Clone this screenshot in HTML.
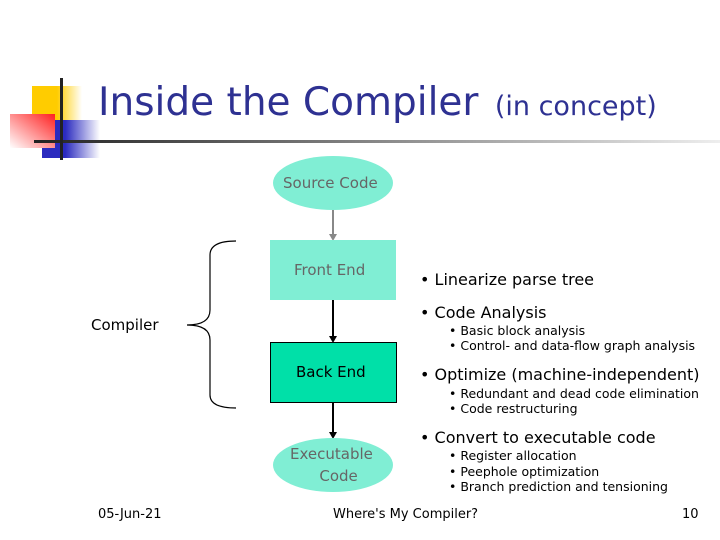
<!DOCTYPE html>
<html><head><style>
body{margin:0;width:720px;height:540px;background:#fff;position:relative;overflow:hidden;font-family:"DejaVu Sans","Liberation Sans",sans-serif;}
.t{position:absolute;white-space:nowrap;}
</style></head><body>
<svg width="720" height="540" style="position:absolute;left:0;top:0">
<defs>
<linearGradient id="y" x1="0" x2="1"><stop offset="0.5" stop-color="#ffcc00"/><stop offset="1" stop-color="#fff"/></linearGradient>
<linearGradient id="b" x1="0" x2="1"><stop offset="0.4" stop-color="#2b2bbf"/><stop offset="1" stop-color="#fff"/></linearGradient>
<linearGradient id="r" x1="1" x2="0" y1="0" y2="1"><stop offset="0" stop-color="#ff2020"/><stop offset="1" stop-color="#fff"/></linearGradient>
<linearGradient id="l" x1="0" x2="1"><stop offset="0" stop-color="#222"/><stop offset="1" stop-color="#eee"/></linearGradient>
</defs>
<rect x="32" y="86" width="50" height="40" fill="url(#y)"/>
<rect x="42" y="120" width="58" height="38" fill="url(#b)"/>
<rect x="10" y="114" width="45" height="34" fill="url(#r)"/>
<rect x="34" y="140" width="686" height="3" fill="url(#l)"/>
<rect x="60" y="78" width="3" height="82" fill="#222"/>
<ellipse cx="333" cy="183" rx="60" ry="27" fill="#80eed4"/>
<line x1="333" y1="210" x2="333" y2="236" stroke="#888" stroke-width="2"/>
<polygon points="329,234 337,234 333,241" fill="#888"/>
<rect x="270" y="240" width="126" height="60" fill="#80eed4"/>
<line x1="333" y1="300" x2="333" y2="337" stroke="#000" stroke-width="2"/>
<polygon points="329,336 337,336 333,343" fill="#000"/>
<rect x="270.5" y="342.5" width="126" height="60" fill="#00e0a8" stroke="#000"/>
<line x1="333" y1="403" x2="333" y2="433" stroke="#000" stroke-width="2"/>
<polygon points="329,432 337,432 333,439" fill="#000"/>
<ellipse cx="333" cy="465" rx="60" ry="27" fill="#80eed4"/>
<path d="M236,241 Q210,241 210,255 L210,310 Q210,325 187,325 Q210,325 210,340 L210,395 Q210,408 236,408" fill="none" stroke="#000" stroke-width="1.2"/>
</svg>
<div class="t" style="left:98px;top:80px;font-size:39px;color:#2e3192;">Inside the Compiler <span style="font-size:27px;margin-left:4px">(in concept)</span></div>
<div class="t" style="left:283px;top:174px;font-size:15px;color:#666;">Source Code</div>
<div class="t" style="left:294px;top:261px;font-size:15px;color:#666;">Front End</div>
<div class="t" style="left:296px;top:363px;font-size:15px;color:#000;">Back End</div>
<div class="t" style="left:290px;top:443px;font-size:15px;color:#666;text-align:center;line-height:22px;">Executable<br>&nbsp;&nbsp;&nbsp;Code</div>
<div class="t" style="left:91px;top:316px;font-size:15px;">Compiler</div>
<div class="t" style="left:420px;top:270px;font-size:16px;">• Linearize parse tree</div>
<div class="t" style="left:420px;top:303px;font-size:16px;">• Code Analysis</div>
<div class="t" style="left:449px;top:323px;font-size:12.5px;line-height:15px;">• Basic block analysis<br>• Control- and data-flow graph analysis</div>
<div class="t" style="left:420px;top:365px;font-size:16px;">• Optimize (machine-independent)</div>
<div class="t" style="left:449px;top:386px;font-size:12.5px;line-height:15px;">• Redundant and dead code elimination<br>• Code restructuring</div>
<div class="t" style="left:420px;top:428px;font-size:16px;">• Convert to executable code</div>
<div class="t" style="left:449px;top:448px;font-size:12.5px;line-height:15.5px;">• Register allocation<br>• Peephole optimization<br>• Branch prediction and tensioning</div>
<div class="t" style="left:98px;top:507px;font-size:13px;">05-Jun-21</div>
<div class="t" style="left:333px;top:507px;font-size:13px;">Where's My Compiler?</div>
<div class="t" style="left:682px;top:507px;font-size:13px;">10</div>
</body></html>
